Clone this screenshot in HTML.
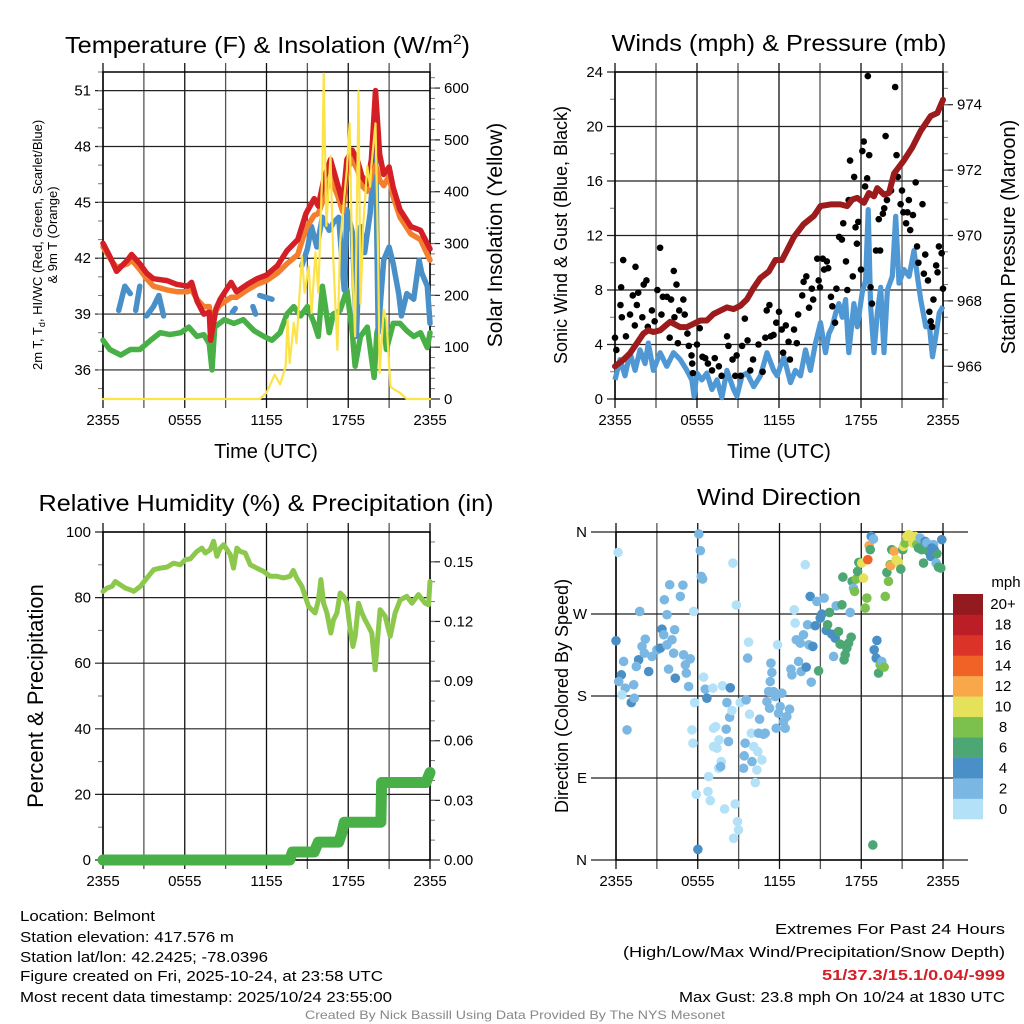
<!DOCTYPE html>
<html><head><meta charset="utf-8"><title>Belmont Mesonet Meteogram</title>
<style>
html,body{margin:0;padding:0;background:#fff;}
svg{display:block;font-family:"Liberation Sans",sans-serif;}
</style></head>
<body>
<svg id="chart" width="1024" height="1024" viewBox="0 0 1024 1024"></svg>
<script>
// ---------- DATA ----------
const redT = [0,0.5,1.0,1.8,2.1,2.7,3.2,3.7,4.7,5.4,6.2,6.5,6.9,7.4,7.8,7.9,8.3,8.6,9.4,9.8,10.6,11.3,12.0,12.8,13.5,14.3,14.9,15.5,15.8,16.2,16.7,17.2,17.6,17.9,18.3,18.7,19.0,19.4,19.7,20.0,20.3,20.6,21.0,21.3,21.8,22.6,23.3,24];
const redV = [42.8,42.1,41.3,41.9,42.2,41.7,41.2,40.9,40.8,40.6,40.5,40.7,39.7,39.0,39.1,37.6,39.3,39.8,40.7,40.2,40.6,40.9,41.1,41.6,42.4,43.0,44.4,45.2,44.8,46.2,47.3,46.0,45.0,47.3,47.8,47.2,46.4,46.0,47.3,51.0,47.6,46.5,46.9,45.8,44.6,43.7,43.5,42.5];
const orangeV = [42.6,42.0,41.5,41.7,41.9,41.4,40.9,40.5,40.3,40.2,40.2,40.3,39.8,39.4,39.4,38.9,39.2,39.5,39.9,39.9,40.3,40.6,40.8,41.2,41.7,42.2,43.6,44.3,44.4,45.2,46.3,45.4,44.5,46.7,47.3,46.7,45.9,45.6,46.5,47.0,46.2,45.9,46.4,45.3,44.2,43.3,43.0,41.9];
const blueT = [1.15,1.6,2.0,null,2.4,2.7,null,3.2,3.7,4.1,4.45,null,9.5,9.7,null,11.0,11.2,null,11.5,12.4,null,14.6,15.0,15.3,15.7,16.1,16.6,16.9,17.3,17.7,17.9,18.3,18.6,18.9,19.2,19.6,20.0,20.2,20.6,21.0,21.3,21.7,21.9,22.3,22.8,23.2,23.4,23.8,24];
const blueV = [39.2,40.5,40.1,null,39.2,40.5,null,38.9,39.4,40.0,38.9,null,39.1,39.3,null,39.4,39.0,null,40.0,39.8,null,41.6,42.5,43.7,42.6,44.2,43.5,43.9,44.2,40.3,44.6,43.4,37.8,43.7,42.3,44.4,48.2,38.0,41.9,42.6,41.7,40.1,38.9,40.1,39.8,41.9,41.2,40.5,38.5];
const greenT = [0,0.5,1.3,2.0,2.7,3.5,4.2,4.9,5.7,6.3,6.9,7.4,7.8,8.0,8.2,8.9,9.6,10.3,11.1,11.8,12.4,13.0,13.5,14.0,14.5,15.0,15.5,15.8,16.1,16.6,16.9,17.4,17.9,18.3,18.5,18.9,19.4,19.9,20.1,20.5,20.8,21.3,21.8,22.3,22.8,23.3,23.8,24];
const greenV = [37.6,37.1,36.8,37.1,37.1,37.6,38.0,37.9,38.0,38.3,37.8,37.9,37.4,36.0,38.3,38.7,38.5,38.7,38.1,37.8,37.6,38.0,39.0,39.4,38.9,39.4,38.5,37.8,40.5,38.0,39.0,39.2,40.3,38.0,36.2,37.8,38.3,35.6,38.0,39.0,37.1,38.5,38.5,38.1,37.8,38.0,37.2,38.0];
const solarT = [0,11.5,12.0,12.6,13.0,13.4,13.55,13.7,14.0,14.2,14.6,14.8,15.1,15.3,15.6,15.8,16.1,16.2,16.4,16.7,16.9,17.2,17.4,17.65,17.9,18.1,18.3,18.5,18.75,18.9,19.1,19.4,19.6,19.7,20.0,20.2,20.3,20.6,20.8,21.1,21.4,21.8,22.3,24];
const solarV = [0,0,12,47,28,63,153,69,147,108,275,205,256,166,283,205,447,628,334,469,269,95,302,373,443,532,256,121,594,184,334,449,410,449,532,269,50,172,153,24,18,12,0,0];

const windT = [0,0.37,0.73,1.1,1.47,1.83,2.2,2.44,2.81,3.3,3.79,4.28,4.77,5.26,5.62,5.79,5.99,6.36,6.72,7.09,7.46,7.82,8.19,8.68,8.92,9.29,9.66,10.15,10.64,11.12,11.61,11.86,12.35,12.84,13.2,13.57,13.94,14.3,14.67,15.04,15.4,15.65,15.89,16.14,16.38,16.63,16.87,17.11,17.48,17.73,18.09,18.34,18.53,18.7,18.95,19.19,19.44,19.68,19.93,20.29,20.54,20.78,21.15,21.52,21.88,22.13,22.37,22.74,22.98,23.23,23.47,23.72,24];
const windV = [1.4,2.9,1.7,3.4,2.1,3.6,2.6,4.1,2.1,3.4,2.4,3.4,2.9,2.1,1.4,0.2,1.9,1.4,1.9,0.7,1.4,0.1,2.1,0.7,0.2,1.7,1.9,0.9,1.7,3.4,2.1,1.7,3.1,1.2,2.1,1.7,3.6,2.1,4.1,5.6,3.4,4.8,5.3,6.3,7.0,6.0,7.3,3.4,7.0,5.3,7.8,8.7,13.9,6.8,3.4,6.3,8.2,3.4,8.0,9.0,13.4,8.5,9.5,9.0,10.9,9.0,7.3,5.3,5.6,3.1,4.6,6.3,6.8];
const gustT = [0,0.1,0.4,0.45,0.5,0.6,0.8,1.1,1.3,1.5,1.6,1.7,1.45,2.0,2.1,2.3,2.4,2.7,2.9,3.1,3.3,3.4,3.5,3.8,4.0,4.1,4.3,4.35,4.5,4.6,4.7,5.0,5.1,5.3,5.4,5.6,5.65,5.7,6.0,6.2,6.4,6.6,6.8,7.1,7.3,7.6,7.8,8.2,8.3,8.6,8.8,8.9,9.2,9.3,9.5,9.7,9.9,10.1,10.5,10.8,11.0,11.1,11.3,11.4,11.6,11.8,12.0,12.2,12.3,12.5,12.7,12.8,13.1,13.3,13.4,13.7,13.8,14.0,14.2,14.4,14.5,14.8,14.9,15.0,15.2,15.3,15.5,15.6,15.8,15.9,16.1,16.2,16.4,16.6,16.7,16.9,17.0,17.1,17.2,17.4,17.5,17.6,17.7,17.8,18.0,18.1,18.2,18.3,18.45,18.5,18.6,18.7,18.8,19.1,19.3,19.4,19.6,19.7,19.8,19.9,20.2,20.5,20.6,20.7,20.9,21.0,21.1,21.3,21.4,21.5,21.6,21.8,22.0,22.1,22.2,22.5,22.6,22.7,22.9,23.0,23.1,23.2,23.3,23.5,23.6,23.7,23.9,24];
const gustV = [4.5,3.6,6.9,8.2,6.0,10.2,4.6,6.2,7.6,9.7,6.9,7.8,5.4,6.0,8.4,8.7,5.3,6.5,5.7,8.0,11.1,6.2,7.5,7.5,4.5,7.3,9.4,6.0,8.4,4.1,6.5,7.3,6.2,4.8,3.9,3.2,2.6,1.9,4.0,5.2,3.1,3.0,2.6,2.1,3.0,2.4,1.7,4.6,3.9,2.9,1.7,3.2,1.7,3.9,5.9,4.3,2.1,2.9,4.0,2.0,4.5,6.5,6.9,4.6,4.7,5.6,6.4,5.1,3.4,5.4,4.2,2.9,5.1,4.1,6.2,7.6,8.6,9.0,6.7,8.1,7.3,10.3,8.7,8.2,10.3,9.5,10.1,9.6,7.5,6.8,5.6,8.1,11.9,11.7,12.9,10.1,8.0,14.6,17.5,9.0,16.3,12.6,11.4,13.0,9.5,18.2,18.9,15.6,16.2,23.7,17.9,8.2,7.0,10.9,13.2,10.9,13.6,14.0,19.3,14.6,15.3,22.9,17.9,16.3,14.3,15.3,13.7,12.9,13.7,14.6,12.4,13.5,15.9,11.2,10.0,14.3,9.2,10.6,8.7,6.4,5.7,5.3,7.3,9.8,9.3,11.2,10.7,8.1];
const presT = [0,0.61,1.1,1.59,2.08,2.44,2.81,3.3,4.03,4.77,5.26,5.75,6.24,6.72,7.21,7.7,8.19,8.68,9.17,9.66,10.15,10.64,11.25,11.74,12.22,12.59,13.08,13.81,14.55,15.04,15.77,16.5,16.99,17.36,17.73,18.22,18.58,18.95,19.19,19.68,20.05,20.42,21.15,21.76,22.37,23.1,23.59,24];
const presV = [966.0,966.2,966.4,966.7,967.0,967.1,967.05,967.1,967.36,967.2,967.2,967.3,967.4,967.4,967.6,967.7,967.8,967.75,967.85,968.05,968.4,968.7,968.9,969.25,969.25,969.55,969.95,970.35,970.6,970.9,970.95,970.95,970.9,971.1,971.15,971.0,971.3,971.2,971.45,971.25,971.3,971.9,972.3,972.7,973.2,973.65,973.75,974.15];

const rhT = [0,0.29,0.66,0.9,1.27,1.64,2.0,2.25,2.74,3.23,3.72,4.21,4.69,5.18,5.67,6.04,6.41,6.89,7.26,7.51,7.87,8.12,8.36,8.61,8.85,9.1,9.34,9.58,9.83,10.07,10.44,10.81,11.29,11.78,12.27,12.76,13.24,13.73,13.97,14.21,14.6,15.09,15.57,15.82,15.99,16.19,16.43,16.72,16.92,17.17,17.41,17.65,17.9,18.14,18.34,18.51,18.75,19.0,19.24,19.49,19.73,19.98,20.15,20.34,20.71,21.08,21.44,21.81,22.3,22.67,23.15,23.64,23.89,24];
const rhV = [81.9,82.9,83.4,84.9,83.9,82.9,82.4,81.9,83.4,86.0,88.5,89.0,89.3,90.5,90.0,91.6,91.8,94.1,95.1,93.6,94.6,97.2,92.6,95.1,96.1,94.6,93.1,89.0,95.1,94.1,93.6,90.0,89.0,88.0,86.5,86.5,86.0,86.5,88.3,86.0,83.4,77.3,75.3,79.3,85.5,78.3,75.3,69.2,73.2,75.3,81.4,80.4,78.3,70.2,65.1,68.2,78.3,75.3,73.2,71.2,69.2,58.0,67.1,76.3,74.3,68.2,75.3,79.3,80.4,78.3,80.9,78.3,77.8,84.9];
const precipT = [0,13.7,13.9,15.5,15.8,17.3,17.5,17.7,20.4,20.45,23.7,24];
const precipV = [0,0,0.004,0.004,0.009,0.009,0.013,0.019,0.019,0.039,0.039,0.044];

const dirT = [0.15,0,0.56,0.39,0.2,0.68,0.44,0.81,1.12,1.34,1.3,1.66,1.91,2.15,2.4,2.64,1.74,2.08,1.49,3.0,3.25,3.37,3.55,3.74,3.94,3.5,3.74,3.86,4.11,4.3,4.35,4.23,4.72,4.91,4.96,5.09,5.16,5.33,5.45,5.7,5.57,5.65,5.77,5.89,6.01,6.08,6.19,6.26,6.36,6.43,6.55,6.67,6.8,6.75,6.92,7.11,7.16,7.31,7.56,7.16,7.41,7.53,7.72,7.68,7.82,7.97,8.09,8.14,8.26,8.34,8.39,8.51,8.58,8.63,8.75,8.83,8.92,8.99,9.12,9.36,9.41,9.48,9.55,9.73,9.66,9.8,9.93,9.98,10.1,10.22,10.34,10.41,10.46,10.54,10.71,10.83,10.95,11.08,11.2,11.27,11.37,11.44,11.32,11.56,11.69,11.76,11.86,11.93,12.05,12.17,12.3,12.42,12.54,12.74,12.84,12.91,13.08,13.15,13.23,13.4,13.52,13.59,13.76,13.89,13.96,14.06,14.16,14.25,14.33,14.45,14.62,14.74,14.87,14.99,15.11,15.28,15.43,15.53,15.67,15.84,15.97,16.09,16.16,16.33,16.45,16.58,16.65,16.74,16.82,16.94,17.07,17.19,17.26,17.33,17.43,17.51,17.63,17.73,17.82,18.04,18.17,18.29,18.41,18.48,18.58,18.66,18.73,18.9,18.85,18.95,19.1,19.15,19.27,19.39,19.51,19.68,19.76,19.88,20.0,20.12,20.17,20.24,20.42,20.56,20.73,20.9,21.05,21.1,21.22,21.34,21.47,21.64,21.78,21.96,22.08,22.2,22.32,22.44,22.57,22.69,22.81,22.93,23.1,23.3,23.35,23.5,23.55,23.67,23.84,23.91,23.18];
const dirV = [337.6,240.6,217.9,203.2,195.9,188.6,181.3,142.8,172.8,177.6,192.3,219.7,234.4,242.4,206.9,223.4,272.8,227,212.4,230.7,232.5,253.4,285.6,269.2,302.1,247.2,236.2,209.5,241.7,252.7,199.6,227,289.3,301.7,225.2,214.2,205.1,190.4,220.8,272.8,142.8,128.2,172.8,72.1,11.7,357.8,339.5,311.3,308.4,200.7,187.5,177.6,91.5,75.1,65.2,188.6,144.6,146.4,131.8,124.5,122.7,100.7,108,102.5,191.2,56,143.6,172.8,130,156.7,189,164,325.9,23.8,61.5,279.8,42.1,33,172.8,100.7,114.3,128.2,175.8,239.1,221.6,160,139.2,108,124.5,85,98.9,119,139.2,154.5,109.9,138,139.2,173.9,184.9,166.6,216,205.8,195.9,184.9,179.4,144.6,236.2,161.1,168.4,183.1,152,144.6,157.5,165.5,209.5,203.2,274.6,260,241.7,217.9,238,206.9,247.2,324.1,211.7,258.2,236.2,289.3,195.2,234.4,257.1,283.8,207.6,265.5,269.9,287.5,252,258.2,271.7,247.9,223.4,243.5,279,250.8,236.9,280.1,310.5,219.7,225.2,232.5,238,271.7,244.6,305.8,298.4,294.8,308.4,316.8,326.6,325.9,309.4,276.5,287.5,329.6,345,340.6,355.2,352.3,16.5,230.7,221.6,241,205.1,214.2,217.9,211.7,289.3,315.7,305.8,324.1,323,340.6,338.8,329.6,326.6,319.3,340.6,344.2,347.9,355.2,357,355.9,347.9,355.2,346.1,342.4,353.4,340.6,325.9,349.7,347.9,338.8,333.3,346.1,340.6,325.9,336.2,321.5,320.4,351.6,342.4];
const dirSpd = [1,5,3,5,3,3,1,3,5,3,3,5,3,3,5,3,3,3,3,3,5,5,3,3,3,3,3,3,3,3,5,3,3,3,3,3,3,3,3,1,1,1,1,1,5,3,3,3,3,1,3,5,1,1,1,1,1,1,1,1,1,1,1,3,1,1,3,3,3,3,5,1,1,1,1,1,1,1,1,3,3,3,3,1,3,1,1,3,1,1,1,1,3,3,1,3,3,3,3,3,3,3,3,3,3,3,1,3,3,3,3,3,3,3,3,3,1,1,3,3,3,3,3,1,5,3,3,5,3,5,5,3,7,5,5,3,5,7,7,5,3,5,3,7,7,7,7,7,7,7,7,3,7,7,3,9,9,7,7,10.5,10.5,9,9,15,13,7,5,3,7,5,5,5,7,9,3,9,9,7,9,9,13,7,13,10.5,10.5,7,7,10.5,9,10.5,10.5,10.5,10.5,10.5,9,7,3,7,7,5,3,7,5,3,5,3,7,7,7,5,5];
const cbLabels = ['0','2','4','6','8','10','12','14','16','18','20+'];
const cbColors = ['#b3e1f7','#7ab8e3','#4a8fc6','#4da774','#7cc14e','#e6e15a','#f8a84a','#f06226','#dc3329','#bb1e27','#931a1e'];

const xTickHours = [0,6,12,18,24];
const xTickLabels = ['2355','0555','1155','1755','2355'];

// ---------- DRAWING ----------
const NS='http://www.w3.org/2000/svg';
const svg=document.getElementById('chart');
function mk(tag, attrs, parent){const e=document.createElementNS(NS,tag);for(const k in attrs)e.setAttribute(k,attrs[k]);(parent||svg).appendChild(e);return e;}
function txt(s, attrs, parent){const e=mk('text',attrs,parent);e.textContent=s;return e;}
function linScale(d0,d1,r0,r1){return v=>r0+(v-d0)*(r1-r0)/(d1-d0);}

const panels={
 p1:{x0:103,x1:430,y0:72,y1:399},
 p2:{x0:615,x1:943,y0:72,y1:399},
 p3:{x0:103,x1:430,y0:532,y1:860},
 p4:{x0:616,x1:943,y0:532,y1:860}
};
for(const k in panels){const p=panels[k];p.x=linScale(0,24,p.x0,p.x1);}

function frame(p, name, leftTicks, leftLabels, yL, minorL, rightTicks, rightLabels, yR, minorR, gridExt){
  const g=mk('g',{});
  
  
  for(let h=0;h<=24;h+=3){
    const x=p.x(h);
    const l=mk('line',{x1:x,x2:x,y1:p.y0-9,y2:p.y1+9,stroke:(h%6===0)?'#111':'#555','stroke-width':1.3},g);
    
    
  }
  leftTicks.forEach((v,i)=>{
    const y=yL(v);
    const l=mk('line',{x1:p.x0-gridExt,x2:p.x1+(rightTicks?0:gridExt),y1:y,y2:y,stroke:'#222','stroke-width':1.2},g);
    
    
    const t=txt(leftLabels[i],{x:p.x0-gridExt-4,y:y+5,'text-anchor':'end','font-size':15,fill:'#000'},g);
    
    
  });
  (minorL||[]).forEach(v=>{const y=yL(v);const l=mk('line',{x1:p.x0-5,x2:p.x0,y1:y,y2:y,stroke:'#777','stroke-width':1},g);
    });
  if(rightTicks){
    rightTicks.forEach((v,i)=>{
      const y=yR(v);
      const l=mk('line',{x1:p.x1,x2:p.x1+10,y1:y,y2:y,stroke:'#222','stroke-width':1.2},g);
      
      
      const t=txt(rightLabels[i],{x:p.x1+14,y:y+5,'font-size':15,fill:'#000'},g);
      
      
    });
    (minorR||[]).forEach(v=>{const y=yR(v);const l=mk('line',{x1:p.x1,x2:p.x1+5,y1:y,y2:y,stroke:'#777','stroke-width':1},g);
      });
  }
  const b=mk('rect',{x:p.x0,y:p.y0,width:p.x1-p.x0,height:p.y1-p.y0,fill:'none',stroke:'#000','stroke-width':1.5},g);
  
  
  xTickHours.forEach((h,i)=>{
    const t=txt(xTickLabels[i],{x:p.x(h),y:p.y1+26,'text-anchor':'middle','font-size':15,fill:'#000'},g);
    
    
  });
  return g;
}

function pathFrom(ts,vs,xf,yf){
  let d='',pen=false;
  for(let i=0;i<ts.length;i++){
    if(ts[i]===null||vs[i]===null){pen=false;continue;}
    d+=(pen?'L':'M')+xf(ts[i]).toFixed(1)+','+yf(vs[i]).toFixed(1);
    pen=true;
  }
  return d;
}
function range(a,b,s){const r=[];for(let v=a;v<=b+1e-9;v+=s)r.push(+v.toFixed(4));return r;}

// ===== Panel 1 =====
const P1=panels.p1;
const yT=linScale(34.44,52.0,P1.y1,P1.y0);
const yS=linScale(0,631,P1.y1,P1.y0);
frame(P1,'temperature-axes',[36,39,42,45,48,51],['36','39','42','45','48','51'],yT,range(35,52,1),
  [0,100,200,300,400,500,600],['0','100','200','300','400','500','600'],yS,range(20,620,20),8);
const series1=[
  ['dewpoint-line',greenT,greenV,'#49b048',5.5,yT],
  ['wind-chill-line',blueT,blueV,'#4a90c8',5.5,yT],
  ['temp-9m-line',redT,orangeV,'#f37f2e',5.5,yT],
  ['temp-2m-line',redT,redV,'#d41f26',5.5,yT],
  ['solar-line',solarT,solarV,'#fce34a',2.2,yS]
];
series1.forEach(s=>{
  const p=mk('path',{d:pathFrom(s[1],s[2],P1.x,s[5]),fill:'none',stroke:s[3],'stroke-width':s[4],'stroke-linejoin':'round','stroke-linecap':'round'});
  
  
});

// ===== Panel 2 =====
const P2=panels.p2;
const yW=linScale(0,24,P2.y1,P2.y0);
const yP=linScale(965,975,P2.y1,P2.y0);
frame(P2,'wind-axes',[0,4,8,12,16,20,24],['0','4','8','12','16','20','24'],yW,range(2,22,4),
  [966,968,970,972,974],['966','968','970','972','974'],yP,range(965,975,0.5),8);
{
  const p=mk('path',{d:pathFrom(windT,windV,P2.x,yW),fill:'none',stroke:'#4f98d4','stroke-width':5.2,'stroke-linejoin':'round'});
  
  
  const g=mk('g',{});
  
  
  gustT.forEach((t,i)=>{
    const c=mk('circle',{cx:P2.x(t),cy:yW(gustV[i]),r:3.3,fill:'#000'},g);
    
    
  });
  const pr=mk('path',{d:pathFrom(presT,presV,P2.x,yP),fill:'none',stroke:'#9c1b1d','stroke-width':6,'stroke-linejoin':'round','stroke-linecap':'round'});
  
  
}

// ===== Panel 3 =====
const P3=panels.p3;
const yRH=linScale(0,100,P3.y1,P3.y0);
const yPr=linScale(0,0.165,P3.y1,P3.y0);
frame(P3,'humidity-axes',[0,20,40,60,80,100],['0','20','40','60','80','100'],yRH,range(10,90,20),
  [0,0.03,0.06,0.09,0.12,0.15],['0.00','0.03','0.06','0.09','0.12','0.15'],yPr,range(0.01,0.16,0.01),8);
{
  const p=mk('path',{d:pathFrom(rhT,rhV,P3.x,yRH),fill:'none',stroke:'#8bc84c','stroke-width':5,'stroke-linejoin':'round','stroke-linecap':'round'});
  
  
  const q=mk('path',{d:pathFrom(precipT,precipV,P3.x,yPr),fill:'none',stroke:'#49b048','stroke-width':11,'stroke-linejoin':'round','stroke-linecap':'round'});
  
  
}

// ===== Panel 4 =====
const P4=panels.p4;
const yD=linScale(0,360,P4.y1,P4.y0);
frame(P4,'direction-axes',[0,90,180,270,360],['N','E','S','W','N'],yD,null,null,null,null,null,25);
{
  const g=mk('g',{});
  
  
  function binColor(s){let i=Math.floor(s/2);if(i<0)i=0;if(i>10)i=10;return cbColors[i];}
  dirT.forEach((t,i)=>{
    const c=mk('circle',{cx:P4.x(t),cy:yD(dirV[i]),r:4.8,fill:binColor(dirSpd[i])},g);
    
    
  });
  const cb=mk('g',{});
  
  
  const top=594,bot=819,h=(bot-top)/cbColors.length;
  cbColors.forEach((col,i)=>{
    const y=bot-(i+1)*h;
    const r=mk('rect',{x:953,y:y,width:30,height:h+0.3,fill:col},cb);
    
    
    const t=txt(cbLabels[i],{x:1003,y:y+h/2+5,'text-anchor':'middle','font-size':15,fill:'#000'},cb);
    
    
  });
  const u=txt('mph',{x:1006,y:587,'text-anchor':'middle','font-size':15,fill:'#000'},cb);
  
  
}
</script>
<script>
(function(){
const NS='http://www.w3.org/2000/svg';
const svg=document.getElementById('chart');
function T(s,a,name){const e=document.createElementNS(NS,'text');for(const k in a)e.setAttribute(k,a[k]);e.textContent=s;svg.appendChild(e);
  
  return e;}
const t1=T('Temperature (F) & Insolation (W/m',{x:65,y:53,'font-size':23,fill:'#000',textLength:405,lengthAdjust:'spacingAndGlyphs'},'temperature-title');
const sup=document.createElementNS(NS,'tspan');sup.setAttribute('dy','-9');sup.setAttribute('font-size','14');sup.textContent='2';t1.appendChild(sup);
const cl=document.createElementNS(NS,'tspan');cl.setAttribute('dy','9');cl.textContent=')';t1.appendChild(cl);
T('Winds (mph) & Pressure (mb)',{x:779,y:51,'text-anchor':'middle','font-size':23,fill:'#000',textLength:335,lengthAdjust:'spacingAndGlyphs'},'wind-title');
T('Relative Humidity (%) & Precipitation (in)',{x:266,y:511,'text-anchor':'middle','font-size':23,fill:'#000',textLength:455,lengthAdjust:'spacingAndGlyphs'},'humidity-title');
T('Wind Direction',{x:779,y:505,'text-anchor':'middle','font-size':23,fill:'#000',textLength:164,lengthAdjust:'spacingAndGlyphs'},'direction-title');
T('Time (UTC)',{x:266,y:458,'text-anchor':'middle','font-size':20,fill:'#000'},'x-axis-title');
T('Time (UTC)',{x:779,y:458,'text-anchor':'middle','font-size':20,fill:'#000'},'x-axis-title');
T('2m T, T',{x:0,y:0,'font-size':13,fill:'#000',transform:'translate(42,370) rotate(-90)'},'temperature-y-title').innerHTML='2m T, T<tspan font-size="9" dy="3">d</tspan><tspan dy="-3">, HI/WC (Red, Green, Scarlet/Blue)</tspan>';
T('& 9m T (Orange)',{x:0,y:0,'font-size':13,fill:'#000','text-anchor':'middle',transform:'translate(57,235) rotate(-90)'},'temperature-y-title-2');
T('Solar Insolation (Yellow)',{x:0,y:0,'font-size':21,fill:'#000','text-anchor':'middle',transform:'translate(502,235) rotate(-90)'},'solar-y-title');
T('Sonic Wind & Gust (Blue, Black)',{x:0,y:0,'font-size':18,fill:'#000','text-anchor':'middle',transform:'translate(567,235) rotate(-90)'},'wind-y-title');
T('Station Pressure (Maroon)',{x:0,y:0,'font-size':20,fill:'#000','text-anchor':'middle',transform:'translate(1015,237) rotate(-90)'},'pressure-y-title');
T('Percent & Precipitation',{x:0,y:0,'font-size':22,fill:'#000','text-anchor':'middle',transform:'translate(43,696) rotate(-90)'},'humidity-y-title');
T('Direction (Colored By Speed)',{x:0,y:0,'font-size':18,fill:'#000','text-anchor':'middle',transform:'translate(568,696) rotate(-90)'},'direction-y-title');
const ff='"Liberation Sans Narrow","Liberation Sans",sans-serif';
const L=[['Location: Belmont',135,921],['Station elevation: 417.576 m',214,942],['Station lat/lon: 42.2425; -78.0396',248,962],['Figure created on Fri, 2025-10-24, at 23:58 UTC',363,981],['Most recent data timestamp: 2025/10/24 23:55:00',372,1002]];
L.forEach(l=>T(l[0],{x:20,y:l[2],'font-size':15,fill:'#000','font-family':ff,textLength:l[1],lengthAdjust:'spacingAndGlyphs'},'station-info'));
const R=[['Extremes For Past 24 Hours',230,934,'#000','normal'],['(High/Low/Max Wind/Precipitation/Snow Depth)',382,957,'#000','normal'],['51/37.3/15.1/0.04/-999',183,980,'#d41f26','bold'],['Max Gust: 23.8 mph On 10/24 at 1830 UTC',326,1002,'#000','normal']];
R.forEach(r=>T(r[0],{x:1005,y:r[2],'text-anchor':'end','font-size':15,fill:r[3],'font-weight':r[4],'font-family':ff,textLength:r[1],lengthAdjust:'spacingAndGlyphs'},'extremes-text'));
T('Created By Nick Bassill Using Data Provided By The NYS Mesonet',{x:515,y:1019,'text-anchor':'middle','font-size':12,fill:'#888','font-family':ff,textLength:420,lengthAdjust:'spacingAndGlyphs'},'credit-text');
})();
</script>
</body></html>
